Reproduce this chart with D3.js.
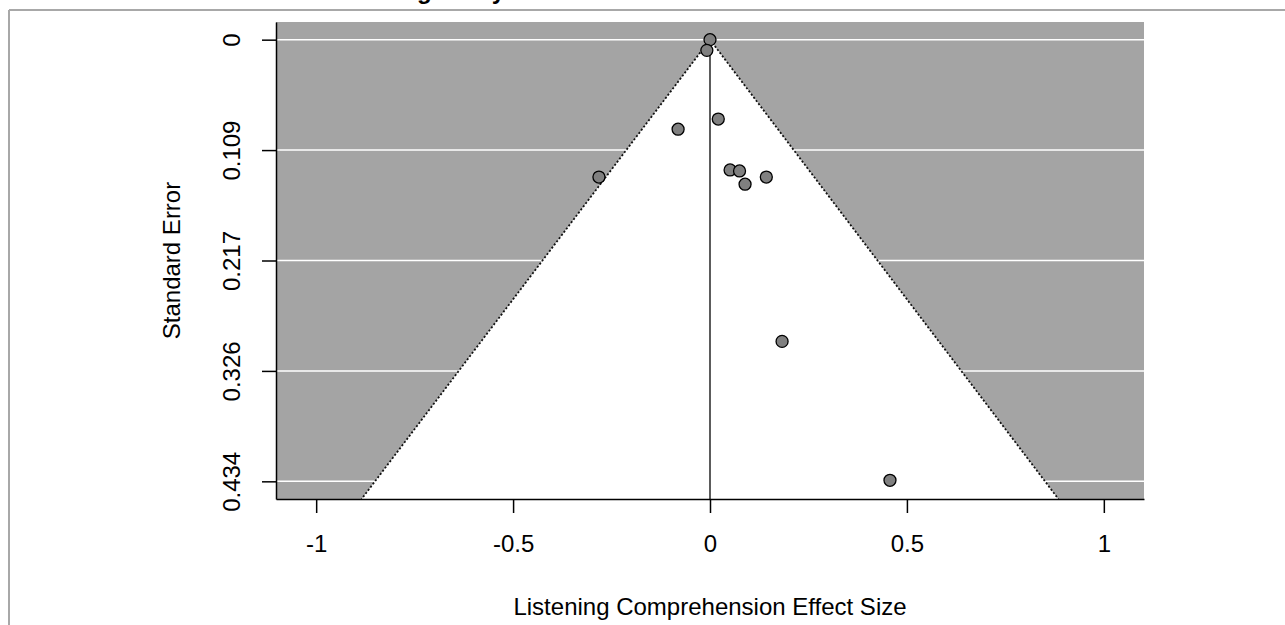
<!DOCTYPE html>
<html>
<head>
<meta charset="utf-8">
<script src="https://cdnjs.cloudflare.com/ajax/libs/d3/7.8.5/d3.min.js"></script>
<style>
  body { margin: 0; background: #fff; }
  text { font-family: "Liberation Sans", Arial, sans-serif; }
</style>
</head>
<body>
<script>
// study effect sizes and their standard errors
var effects = [0, -0.008, -0.081, 0.021, -0.282, 0.051, 0.075, 0.089, 0.143, 0.183, 0.457];
var stdErrs = [0, 0.0105, 0.088, 0.078, 0.135, 0.128, 0.129, 0.142, 0.135, 0.2965, 0.433];

var xTicks = [-1, -0.5, 0, 0.5, 1];
var xTickLabels = ["-1", "-0.5", "0", "0.5", "1"];
var yTicks = [0, 0.1085, 0.217, 0.3255, 0.434];
var yTickLabels = ["0", "0.109", "0.217", "0.326", "0.434"];

var width = 1285,
  height = 625;
var margin = {
  top: 22,
  bottom: 126,
  left: 276,
  right: 141
};

var svg = d3.select('body')
  .append('svg')
  .attr('width', width)
  .attr('height', height)
  .style('background', '#fff');

// outer frame (cropped figure border)
svg.append('line').attr('x1', 9).attr('x2', width).attr('y1', 10).attr('y2', 10)
  .attr('stroke', '#a8a8a8').attr('stroke-width', 2);
svg.append('line').attr('x1', 9).attr('x2', 9).attr('y1', 10).attr('y2', height)
  .attr('stroke', '#a8a8a8').attr('stroke-width', 2);

// title, mostly cut off at the top (as in the source figure)
svg.append('text')
  .attr('x', 325).attr('y', -1)
  .style('font-size', '24px').style('font-weight', 'bold')
  .text('Listening Study');

// Scales
var seMax = 0.434;
var xScale = d3.scaleLinear()
  .domain([-1.102, 1.102])
  .range([margin.left, width - margin.right]);

var yScale = d3.scaleLinear()
  .domain([-0.04 * seMax, seMax * 1.04])
  .range([margin.top, height - margin.bottom]);

var y0 = yScale.range()[0], y1 = yScale.range()[1];
var x0 = xScale.range()[0], x1 = xScale.range()[1];

// grey background
svg.append('rect')
  .attr('x', x0).attr('y', y0)
  .attr('width', x1 - x0).attr('height', y1 - y0)
  .attr('fill', '#a4a4a4');

// white gridlines
svg.selectAll('.grid')
  .data(yTicks)
  .enter()
  .append('line')
  .attr('class', 'grid')
  .attr('x1', x0).attr('x2', x1)
  .attr('y1', function(d) { return yScale(d); })
  .attr('y2', function(d) { return yScale(d); })
  .attr('stroke', '#fff')
  .attr('stroke-width', 1.5);

// funnel (pseudo confidence region)
var seBottom = yScale.domain()[1];
var funnel = [[0, 0], [-1.96 * seBottom, seBottom], [1.96 * seBottom, seBottom]];
svg.append('polygon')
  .attr('points', funnel.map(function(p) { return xScale(p[0]) + ',' + yScale(p[1]); }).join(' '))
  .attr('fill', '#fff');

svg.selectAll('.funline')
  .data([-1.96, 1.96])
  .enter()
  .append('line')
  .attr('class', 'funline')
  .attr('x1', xScale(0)).attr('y1', yScale(0))
  .attr('x2', function(d) { return xScale(d * seBottom); })
  .attr('y2', yScale(seBottom))
  .attr('stroke', '#111')
  .attr('stroke-width', 1.8)
  .attr('stroke-dasharray', '2,2');

// reference line at 0
svg.append('line')
  .attr('x1', xScale(0)).attr('x2', xScale(0))
  .attr('y1', yScale(0)).attr('y2', y1)
  .attr('stroke', '#333')
  .attr('stroke-width', 1.6);

// Axes
var xAxis = svg.append('g')
  .attr('transform', `translate(0,${y1})`)
  .call(d3.axisBottom(xScale).tickValues(xTicks)
    .tickFormat(function(d, i) { return xTickLabels[i]; })
    .tickSize(14).tickSizeOuter(0).tickPadding(22));

var yAxis = svg.append('g')
  .attr('transform', `translate(${x0},0)`)
  .call(d3.axisLeft(yScale).tickValues(yTicks)
    .tickFormat(function(d, i) { return yTickLabels[i]; })
    .tickSize(14).tickSizeOuter(0));

[xAxis, yAxis].forEach(function(ax) {
  ax.selectAll('path, line').attr('stroke', '#000').attr('stroke-width', 1.5);
  ax.selectAll('text')
    .attr('fill', '#000')
    .style('font-size', '24px')
    .style('font-family', '"Liberation Sans", Arial, sans-serif');
});

yAxis.selectAll('text')
  .attr('transform', 'rotate(-90)')
  .attr('x', 0)
  .attr('y', -36)
  .attr('dy', 0)
  .attr('text-anchor', 'middle');

// Points
svg.selectAll('.study')
  .data(effects)
  .enter()
  .append('circle')
  .attr('class', 'study')
  .attr('cx', function(d) { return xScale(d); })
  .attr('cy', function(d, i) { return yScale(stdErrs[i]); })
  .attr('r', 6)
  .attr('fill', '#808080')
  .attr('stroke', '#000')
  .attr('stroke-width', 1.3);

// Axis titles
svg.append('text')
  .attr('x', xScale(0)).attr('y', 615)
  .attr('text-anchor', 'middle')
  .style('font-size', '24px')
  .text('Listening Comprehension Effect Size');

svg.append('text')
  .attr('transform', `translate(180,${(y0 + y1) / 2}) rotate(-90)`)
  .attr('text-anchor', 'middle')
  .style('font-size', '24px')
  .text('Standard Error');
</script>
</body>
</html>
